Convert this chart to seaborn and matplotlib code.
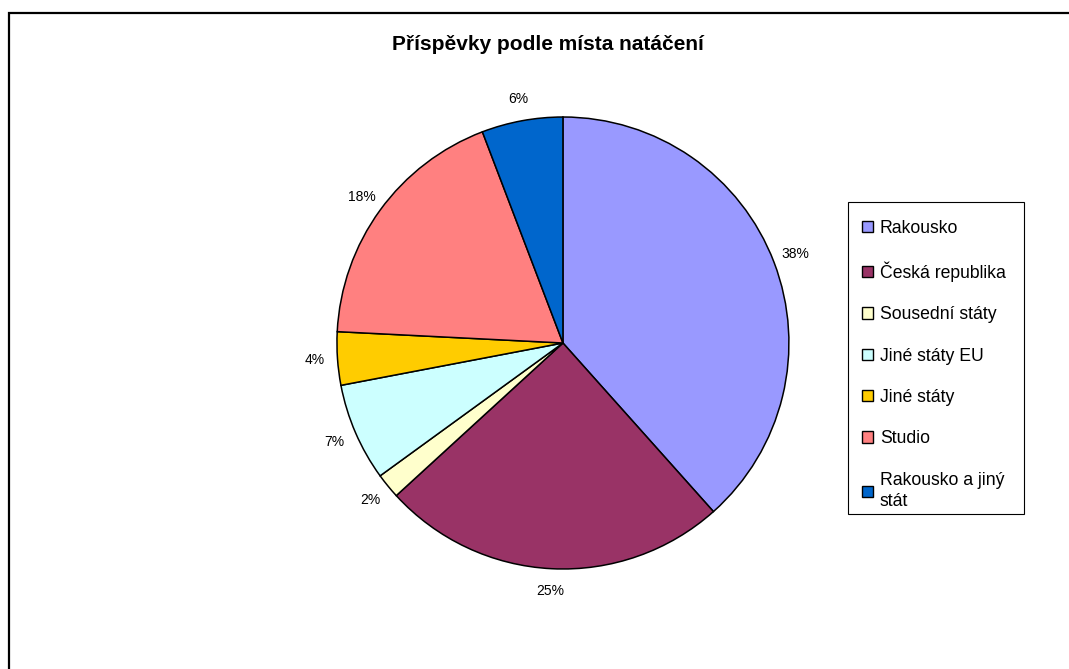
import matplotlib
matplotlib.use("Agg")
import matplotlib.pyplot as plt
import matplotlib.patches as mpatches
import seaborn as sns

categories = ["Rakousko", "Česká republika", "Sousední státy", "Jiné státy EU",
              "Jiné státy", "Studio", "Rakousko a jiný\nstát"]
shares = [38.4, 24.8, 1.8, 7.0, 3.8, 18.4, 5.8]
colors = ["#9999FF", "#993366", "#FFFFCC", "#CCFFFF", "#FFCC00", "#FF8080", "#0066CC"]

sns.set_style("white")
plt.rcParams["font.family"] = ["Liberation Sans", "DejaVu Sans"]
plt.rcParams["text.color"] = "black"

W, H = 1069, 669
fig = plt.figure(figsize=(W / 100, H / 100), dpi=100)
ax = fig.add_axes([0.3152, 0.1495, 0.4228, 0.6756])

wedges, texts, autotexts = ax.pie(
    shares, colors=colors, startangle=90, counterclock=False,
    autopct="%.0f%%", pctdistance=1.1,
    wedgeprops=dict(edgecolor="black", linewidth=1.1),
    textprops=dict(fontsize=10, color="black"))
ax.set_xlim(-1, 1)
ax.set_ylim(-1, 1)
ax.set_aspect("equal")
ax.axis("off")

fig.text(548 / W, 1 - 45 / H, "Příspěvky podle místa natáčení",
         ha="center", va="center", fontsize=15, fontweight="bold", color="black")

# legend box drawn separately (Excel leaves more room above the first entry)
fig.patches.append(mpatches.Rectangle((848 / W, 1 - 514 / H), 176 / W, 312 / H,
                                      transform=fig.transFigure, fill=False,
                                      edgecolor="black", linewidth=0.8))

handles = [mpatches.Patch(facecolor=c, edgecolor="black", linewidth=1.0) for c in colors]
leg = fig.legend(handles, categories, loc="upper left",
                 bbox_to_anchor=(862 / W, 1 - 220 / H),
                 fontsize=12.7, frameon=False,
                 handlelength=0.6, handleheight=0.6, handletextpad=0.42,
                 labelspacing=1.38, borderpad=0, borderaxespad=0)
for t in leg.get_texts():
    t.set_color("black")
    t.set_linespacing(1.35)

# outer chart frame (only top and left edges fall inside the picture)
fig.patches.append(mpatches.Rectangle((8.5 / W, -0.1), 1.2, 1 - 13.5 / H + 0.1,
                                      transform=fig.transFigure, fill=False,
                                      edgecolor="black", linewidth=1.6))

fig.savefig("out.png", dpi=100)
